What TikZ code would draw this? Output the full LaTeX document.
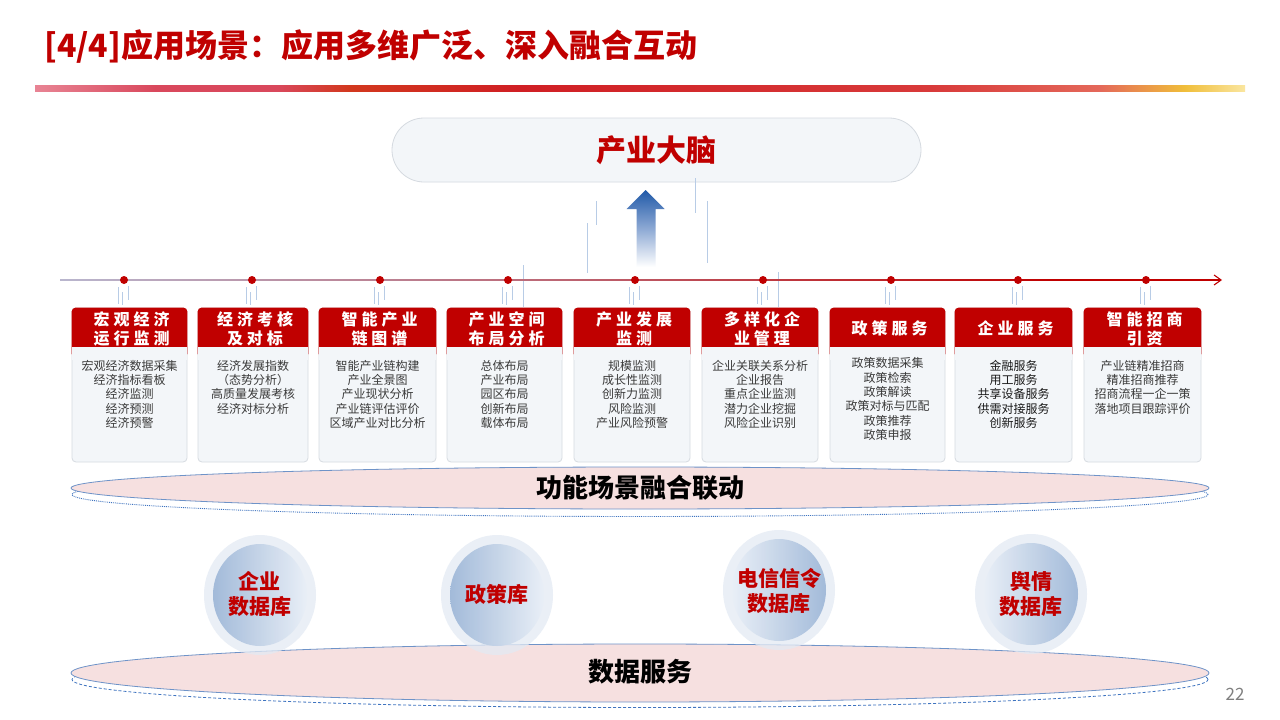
\documentclass[tikz,border=0pt]{standalone}
\usepackage{fontspec}
\setmainfont{Noto Sans CJK SC}
\newfontfamily\hdfont[LetterSpace=25]{Noto Sans CJK SC}
\usetikzlibrary{arrows.meta,shapes.geometric}
\definecolor{tred}{HTML}{C00000}
\definecolor{cardfill}{HTML}{F3F6F9}
\definecolor{cardline}{HTML}{D6DBE1}
\definecolor{bodytext}{HTML}{3A3A3A}
\definecolor{pinkfill}{HTML}{F6E0E0}
\definecolor{ellline}{HTML}{6E93C8}
\definecolor{dotline}{HTML}{3F74C0}
\definecolor{cblue}{HTML}{9FB8D8}
\definecolor{clight}{HTML}{E9EFF7}
\definecolor{halo}{HTML}{E3EAF4}
\definecolor{arrowblue}{HTML}{2059A8}
\definecolor{arrowmid}{HTML}{8DA9D4}
\definecolor{faint}{HTML}{B8CCE6}
\definecolor{tlgray}{HTML}{B9B6CE}
\definecolor{pillline}{HTML}{D5DAE0}
\definecolor{pagegray}{HTML}{7F7F7F}
\definecolor{bandA}{HTML}{E88494}
\definecolor{bandB}{HTML}{D9485C}
\definecolor{bandC}{HTML}{D2381E}
\definecolor{bandD}{HTML}{D01F24}
\definecolor{bandE}{HTML}{D83A3A}
\definecolor{bandF}{HTML}{E4685A}
\definecolor{bandG}{HTML}{F0BE3A}
\definecolor{bandH}{HTML}{FAE6A0}
\pgfdeclarehorizontalshading{band}{100bp}{color(0bp)=(bandA); color(25bp)=(bandA); color(30bp)=(bandB); color(35bp)=(bandB); color(38bp)=(bandC); color(45bp)=(bandD); color(62bp)=(bandE); color(69bp)=(bandF); color(72.5bp)=(bandG); color(75bp)=(bandH); color(100bp)=(bandH)}
\pgfdeclarehorizontalshading{tline}{100bp}{color(0bp)=(tlgray); color(25bp)=(tlgray); color(47bp)=(tlgray!55!tred); color(68bp)=(tred); color(100bp)=(tred)}
\tikzset{
  cardbox/.style={draw=cardline, line width=0.8pt, fill=cardfill, rounded corners=4pt, minimum height=154pt, inner sep=0pt},
  hdtext/.style={text=white, font=\hdfont\bfseries\fontsize{16}{18.5}\selectfont, align=center, inner sep=0pt},
  bdtext/.style={text=bodytext, font=\fontsize{12}{14.3}\selectfont, align=center, inner sep=0pt, anchor=north},
  dbtext/.style={text=tred, font=\bfseries\fontsize{21}{25}\selectfont, align=center, inner sep=0pt},
  bigtext/.style={text=black, font=\bfseries\fontsize{26}{30}\selectfont},
  tdot/.style={circle, fill=tred, inner sep=0pt, minimum size=8pt},
  faintline/.style={draw=faint, line width=0.6pt},
}
\newcommand{\mycard}[3]{%
  \node[cardbox, minimum width=#3] (#1) at (#2,385) {};
  \fill[tred, rounded corners=4pt] (#1.north west) rectangle ([yshift=-50pt]#1.north east);
  \fill[cardfill] ([xshift=0.5pt,yshift=-39pt]#1.north west) rectangle ([xshift=-0.5pt,yshift=-52pt]#1.north east);
}
\begin{document}
\begin{tikzpicture}[x=1pt,y=-1pt]
\useasboundingbox[fill=white] (0,0) rectangle (1280,720);

% title
\node[anchor=west, text=tred, font=\bfseries\fontsize{32}{36}\selectfont, inner sep=0pt] (title) at (44,47) {[4/4]应用场景：应用多维广泛、深入融合互动};
\shade[shading=band] (35,85) rectangle (1245,91);

% top pill
\node[draw=pillline, line width=0.8pt, fill=cardfill, rounded corners=32pt, minimum width=529pt, minimum height=64pt, text=tred, font=\bfseries\fontsize{30}{34}\selectfont] (brain) at (656.5,150) {产业大脑};

% faint decorative lines
\draw[faintline] (596,201) -- (596,225);
\draw[faintline] (587.5,223) -- (587.5,273);
\draw[faintline] (695,178) -- (695,213);
\draw[faintline] (707,201) -- (707,263);
\draw[faintline] (523,265) -- (523,307);
\draw[faintline] (778,272) -- (778,307);

% up arrow
\shade[top color=arrowblue, bottom color=white, middle color=arrowmid] (645.5,190) -- (664.5,209) -- (655.5,209) -- (655.5,267) -- (636.5,267) -- (636.5,209) -- (626.5,209) -- cycle;

% timeline
\coordinate (tl0) at (60,280);
\coordinate (tl1) at (1222,280);
\shade[shading=tline] (60,279.4) rectangle (1216,280.6);
\draw[tred, line width=1.1pt, -{Straight Barb[length=7pt, width=10pt]}] (1205,280) -- (tl1);
\foreach \i/\x in {1/124,2/252,3/380,4/508,5/635,6/763,7/891,8/1018,9/1146}{
  \node[tdot] (d\i) at (\x,280) {};
  \draw[faintline] (\x-6,287) -- (\x-6,304);
  \draw[faintline] (\x+4,286) -- (\x+4,300);
  \draw[faintline] (\x-2,292) -- (\x-2,305);
}

% cards
\mycard{c1}{129.5}{115}
\node[hdtext] (c1h) at (131.5,329) {宏观经济\\运行监测};
\node[bdtext] (c1b) at (129.5,360) {宏观经济数据采集\\经济指标看板\\经济监测\\经济预测\\经济预警};

\mycard{c2}{253}{110}
\node[hdtext] (c2h) at (255,329) {经济考核\\及对标};
\node[bdtext] (c2b) at (253,360) {经济发展指数\\（态势分析）\\高质量发展考核\\经济对标分析};

\mycard{c3}{377.5}{117}
\node[hdtext] (c3h) at (379.5,329) {智能产业\\链图谱};
\node[bdtext] (c3b) at (377.5,360) {智能产业链构建\\产业全景图\\产业现状分析\\产业链评估评价\\区域产业对比分析};

\mycard{c4}{504.5}{115}
\node[hdtext] (c4h) at (506.5,329) {产业空间\\布局分析};
\node[bdtext] (c4b) at (504.5,360) {总体布局\\产业布局\\园区布局\\创新布局\\载体布局};

\mycard{c5}{632}{116}
\node[hdtext] (c5h) at (634,329) {产业发展\\监测};
\node[bdtext] (c5b) at (632,360) {规模监测\\成长性监测\\创新力监测\\风险监测\\产业风险预警};

\mycard{c6}{760}{116}
\node[hdtext] (c6h) at (762,329) {多样化企\\业管理};
\node[bdtext] (c6b) at (760,360) {企业关联关系分析\\企业报告\\重点企业监测\\潜力企业挖掘\\风险企业识别};

\mycard{c7}{887.5}{115}
\node[hdtext] (c7h) at (889.5,328) {政策服务};
\node[bdtext] (c7b) at (887.5,357.5) {政策数据采集\\政策检索\\政策解读\\政策对标与匹配\\政策推荐\\政策申报};

\mycard{c8}{1013.5}{117}
\node[hdtext] (c8h) at (1015.5,328) {企业服务};
\node[bdtext, text=black!90] (c8b) at (1013.5,360) {金融服务\\用工服务\\共享设备服务\\供需对接服务\\创新服务};

\mycard{c9}{1142.5}{117}
\node[hdtext] (c9h) at (1144.5,329) {智能招商\\引资};
\node[bdtext] (c9b) at (1142.5,360) {产业链精准招商\\精准招商推荐\\招商流程一企一策\\落地项目跟踪评价};

% fusion ellipse
\node[ellipse, draw=dotline, densely dotted, line width=0.9pt, minimum width=1136pt, minimum height=44pt] (fusedot) at (640,494.5) {};
\node[ellipse, draw=ellline, line width=0.8pt, fill=pinkfill, minimum width=1138pt, minimum height=42pt, inner sep=0pt, bigtext] (fuse) at (640,488) {功能场景融合联动};

% data service ellipse
\node[ellipse, draw=dotline, densely dashed, line width=0.8pt, minimum width=1136pt, minimum height=56pt] (datadash) at (640,679.5) {};
\node[ellipse, draw=ellline, line width=0.8pt, fill=pinkfill, minimum width=1138pt, minimum height=58pt, inner sep=0pt] (data) at (640,673) {};
\node[bigtext] (datat) at (640,672) {数据服务};

% database circles
\foreach \n/\x/\y/\lc/\rc in {1/260/595/cblue/clight, 2/497/595/cblue/clight, 3/779/590/clight/cblue, 4/1031/594/clight/cblue}{
  \node[ellipse, fill=halo, fill opacity=0.75, minimum width=112pt, minimum height=120pt, inner sep=0pt] (h\n) at (\x,\y) {};
  \shade[left color=\lc, right color=\rc, fill opacity=0.95] (\x,\y) ellipse [x radius=47, y radius=51];
}
\node[dbtext] (db1) at (259.5,593.5) {企业\\数据库};
\node[dbtext] (db2) at (497,594.5) {政策库};
\node[dbtext] (db3) at (779,590.5) {电信信令\\数据库};
\node[dbtext] (db4) at (1031,594) {舆情\\数据库};

% page number
\node[text=pagegray, font=\fontsize{17}{20}\selectfont, inner sep=0pt] (page) at (1235,694) {22};
\end{tikzpicture}
\end{document}
